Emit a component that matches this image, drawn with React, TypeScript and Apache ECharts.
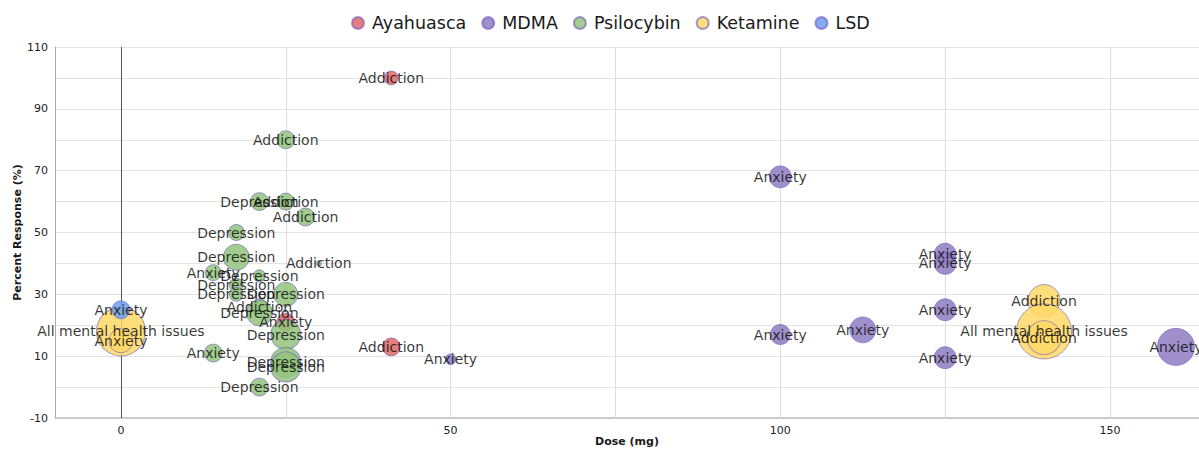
import React, { useEffect, useRef } from "react";
import * as echarts from "echarts";

// [dose (mg), percent response (%), sample size, condition]
const ayahuascaPoints: [number, number, number, string][] = [
  [41, 100, 12, "Addiction"],
  [41, 13, 20, "Addiction"],
  [25, 21, 20, "Anxiety"],
];

const mdmaPoints: [number, number, number, string][] = [
  [100, 68, 30, "Anxiety"],
  [100, 17, 25, "Anxiety"],
  [112.5, 18.5, 42, "Anxiety"],
  [125, 43, 30, "Anxiety"],
  [125, 40, 30, "Anxiety"],
  [125, 25, 30, "Anxiety"],
  [125, 9.5, 30, "Anxiety"],
  [160, 13, 86, "Anxiety"],
  [50, 9, 7, "Anxiety"],
];

const psilocybinPoints: [number, number, number, string][] = [
  [25, 80, 20, "Addiction"],
  [21, 60, 20, "Depression"],
  [25, 60, 18, "Addiction"],
  [28, 55, 20, "Addiction"],
  [17.5, 50, 16, "Depression"],
  [17.5, 42, 42, "Depression"],
  [14, 37, 16, "Anxiety"],
  [21, 36, 9, "Depression"],
  [17.5, 33, 12, "Depression"],
  [17.5, 30, 12, "Depression"],
  [25, 30, 36, "Depression"],
  [30, 40, 2, "Addiction"],
  [21, 26, 16, "Addiction"],
  [21, 24, 42, "Depression"],
  [25, 17, 56, "Depression"],
  [25, 8, 56, "Depression"],
  [25, 6.5, 56, "Depression"],
  [14, 11, 20, "Anxiety"],
  [21, 0, 20, "Depression"],
];

const ketaminePoints: [number, number, number, string][] = [
  [0, 18, 150, "All mental health issues"],
  [0, 15, 36, "Anxiety"],
  [140, 28, 64, "Addiction"],
  [140, 18, 189, "All mental health issues"],
  [140, 16, 72, "Addiction"],
];

const lsdPoints: [number, number, number, string][] = [[0, 25, 20, "Anxiety"]];

const seriesNames = ["Ayahuasca", "MDMA", "Psilocybin", "Ketamine", "LSD"];
const seriesColors = ["#e06666", "#8e7cc3", "#93c47d", "#ffd966", "#6d9eeb"];
const seriesData = [ayahuascaPoints, mdmaPoints, psilocybinPoints, ketaminePoints, lsdPoints];

const xLabelValues = [0, 50, 100, 150];
const xGridValues = [25, 50, 75, 100, 125, 150];

const FONT = "DejaVu Sans";

export default function App() {
  const ref = useRef<HTMLDivElement>(null);

  useEffect(() => {
    if (!ref.current) return;
    const chart = echarts.init(ref.current, undefined, { renderer: "svg" });

    const series: any[] = seriesNames.map((name, i) => ({
      name,
      type: "scatter",
      data: seriesData[i],
      symbolSize: (v: any) => 4 * Math.sqrt(v[2]),
      itemStyle: {
        color: seriesColors[i],
        opacity: 0.85,
        borderColor: "rgba(110, 90, 190, 0.7)",
        borderWidth: 1,
      },
      label: {
        show: true,
        position: "inside",
        formatter: (p: any) => p.value[3],
        color: "#111",
        fontSize: 14,
        fontFamily: FONT,
      },
      emphasis: { disabled: true },
    }));

    series[0].markLine = {
      silent: true,
      symbol: "none",
      z: 1,
      label: { show: false },
      animation: false,
      data: [
        ...xGridValues.map((v) => ({ xAxis: v, lineStyle: { color: "#dedede", width: 1, type: "solid" } })),
        { xAxis: 0, lineStyle: { color: "#555", width: 1, type: "solid" } },
      ],
    };

    chart.setOption({
      animation: false,
      textStyle: { fontFamily: FONT },
      legend: {
        top: 9,
        left: 346,
        icon: "circle",
        itemWidth: 12,
        itemHeight: 12,
        itemGap: 15,
        textStyle: { fontSize: 17.5, color: "#1a1a1a", fontFamily: FONT, padding: [0, 0, 0, 3] },
        data: seriesNames,
      },
      grid: { left: 55, right: 0, top: 47, bottom: 31, containLabel: false, outerBoundsMode: "none" },
      xAxis: {
        type: "value",
        min: -10,
        max: 163.5,
        name: "Dose (mg)",
        nameLocation: "middle",
        nameGap: 18,
        nameMoveOverlap: false,
        nameTextStyle: { fontWeight: "bold", fontSize: 11, color: "#1a1a1a", fontFamily: FONT },
        axisLine: { show: true, onZero: false, lineStyle: { color: "#ccc", width: 2 } },
        axisTick: { show: false },
        splitLine: { show: false },
        axisLabel: { customValues: xLabelValues, fontSize: 11, color: "#222", margin: 7, fontFamily: FONT },
      },
      yAxis: {
        type: "value",
        min: -10,
        max: 110,
        interval: 10,
        name: "Percent Response (%)",
        nameLocation: "middle",
        nameGap: 32,
        nameMoveOverlap: false,
        nameRotate: 90,
        nameTextStyle: { fontWeight: "bold", fontSize: 11, color: "#1a1a1a", fontFamily: FONT },
        axisLine: { show: true, onZero: false, lineStyle: { color: "#aaa", width: 1 } },
        axisTick: { show: false },
        splitLine: { show: true, lineStyle: { color: "#e3e3e3", width: 1 } },
        axisLabel: {
          fontSize: 11,
          color: "#222",
          margin: 7,
          fontFamily: FONT,
          formatter: (v: number) => ((v + 10) % 20 === 0 ? String(v) : ""),
        },
      },
      series,
    });

    return () => chart.dispose();
  }, []);

  return <div ref={ref} style={{ width: 1199, height: 449, position: "absolute", left: 0, top: 0 }} />;
}
